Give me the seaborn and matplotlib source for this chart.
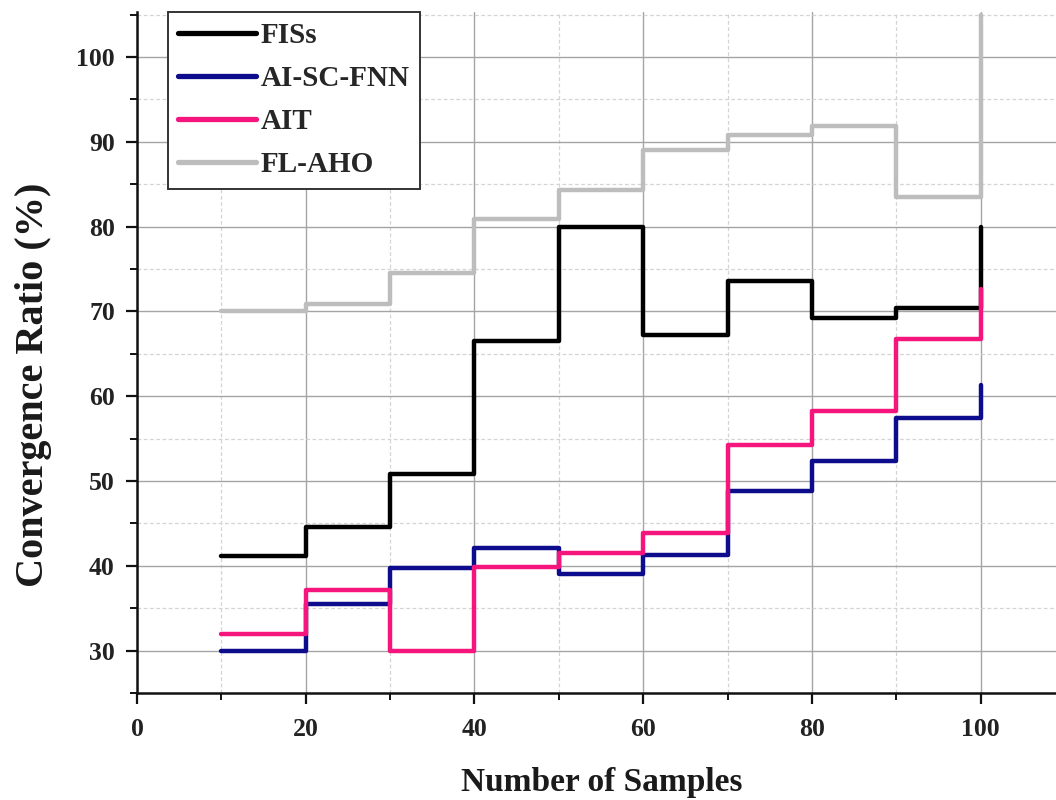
import matplotlib
matplotlib.use("Agg")
import matplotlib.pyplot as plt
from matplotlib.ticker import MultipleLocator
import pandas as pd
import seaborn as sns

# Convergence ratio (%) per number of samples; each value holds until the next sample
samples = [10, 20, 30, 40, 50, 60, 70, 80, 90, 100]
fiss = [41.1, 44.6, 50.8, 66.5, 80.0, 67.2, 73.6, 69.2, 70.4, 80.0]
ai_sc_fnn = [29.9, 35.5, 39.7, 42.1, 39.0, 41.3, 48.8, 52.4, 57.4, 61.3]
ait = [32.0, 37.2, 30.0, 39.9, 41.5, 43.9, 54.2, 58.2, 66.8, 72.6]
fl_aho = [70.1, 70.9, 74.5, 80.9, 84.3, 89.0, 90.8, 91.8, 83.5, 105.0]

methods = ["FISs", "AI-SC-FNN", "AIT", "FL-AHO"]
series = [fiss, ai_sc_fnn, ait, fl_aho]
colors = ["#000000", "#0c0c8c", "#f5157c", "#bdbdbd"]

x_ticks = [0, 20, 40, 60, 80, 100]
y_ticks = [30, 40, 50, 60, 70, 80, 90, 100]

rows = []
for name, vals in zip(methods, series):
    for s, v in zip(samples, vals):
        rows.append({"Number of Samples": s, "Convergence Ratio": v, "Method": name})
df = pd.DataFrame(rows)

sns.set_theme(style="white")
plt.rcParams["font.family"] = ["Liberation Serif", "DejaVu Serif"]
plt.rcParams["font.weight"] = "bold"

fig = plt.figure(figsize=(10.56, 8.0), dpi=100)
ax = fig.add_axes([137 / 1056, 107 / 800, 928 / 1056, 681 / 800])

sns.lineplot(
    data=df, x="Number of Samples", y="Convergence Ratio", hue="Method",
    hue_order=methods, palette=colors, drawstyle="steps-post",
    estimator=None, linewidth=3.2, ax=ax, legend=True,
)

ax.set_xlim(0, 110)
ax.set_ylim(25, 105.3)
ax.set_xticks(x_ticks)
ax.set_yticks(y_ticks)
ax.xaxis.set_minor_locator(MultipleLocator(10))
ax.yaxis.set_minor_locator(MultipleLocator(5))

ax.grid(which="major", color="#a4a4a4", linewidth=1.0, linestyle="-")
ax.grid(which="minor", color="#d4d4d4", linewidth=0.9, linestyle=(0, (3, 2)))
ax.set_axisbelow(True)

for side in ("top", "right"):
    ax.spines[side].set_visible(False)
for side in ("left", "bottom"):
    ax.spines[side].set_color("#111111")
    ax.spines[side].set_linewidth(1.8)

ax.tick_params(which="major", direction="out", length=8, width=1.6, color="#111111",
               labelsize=18.5, labelcolor="#222222", bottom=True, left=True)
ax.tick_params(axis="y", which="major", pad=8)
ax.tick_params(axis="x", which="major", pad=10)
ax.tick_params(which="minor", direction="out", length=5, width=1.4, color="#111111",
               bottom=True, left=True)
for lbl in ax.get_xticklabels() + ax.get_yticklabels():
    lbl.set_fontweight("bold")

ax.set_xlabel("Number of Samples", fontsize=24, fontweight="bold", color="#1a1a1a")
ax.set_ylabel("Convergence Ratio (%)", fontsize=29, fontweight="bold", color="#1a1a1a")
ax.xaxis.set_label_coords(0.501, -0.108)
ax.yaxis.set_label_coords(-0.092, 0.452)

handles, labels = ax.get_legend_handles_labels()
for h in handles:
    h.set_linewidth(3.8)
leg = ax.legend(
    handles, labels, loc="upper left", bbox_to_anchor=(31 / 928, 1.0),
    frameon=True, fancybox=False, framealpha=1.0, edgecolor="#333333",
    prop={"family": "Liberation Serif", "weight": "bold", "size": 21},
    handlelength=2.67, handletextpad=0.17, labelspacing=0.55,
    borderpad=0.35, borderaxespad=0.0,
)
leg.get_frame().set_linewidth(1.4)

fig.savefig("out.png", dpi=100)
